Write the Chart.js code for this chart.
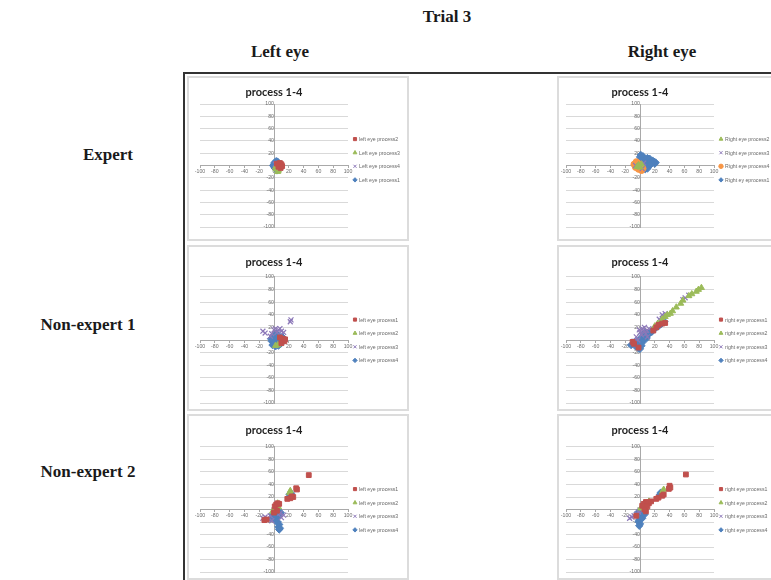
<!DOCTYPE html>
<html>
<head>
<meta charset="utf-8">
<script src="https://cdn.jsdelivr.net/npm/chart.js@4"></script>
<style>
  html, body { margin: 0; padding: 0; background: #fff; width: 771px; height: 580px; overflow: hidden; }
  .lbl { position: absolute; font-family: 'Liberation Serif', 'Times New Roman', serif; font-weight: bold;
         font-size: 17px; color: #1a1a1a; white-space: nowrap; transform: translate(-50%, -50%); }
  #frame { position: absolute; left: 183px; top: 72px; width: 640px; height: 560px;
           border-left: 2px solid #333; border-top: 2px solid #333; }
  .panel { position: absolute; width: 222px; box-sizing: border-box; border: 2px solid #dcdcdc; background: #fff; }
  .panel canvas { position: absolute; left: 0; top: 0; }
</style>
</head>
<body>
<div class="lbl" style="left:447px;top:17px;">Trial 3</div>
<div class="lbl" style="left:280px;top:52px;">Left eye</div>
<div class="lbl" style="left:662px;top:52px;">Right eye</div>
<div class="lbl" style="left:108px;top:155px;">Expert</div>
<div class="lbl" style="left:88px;top:325px;">Non-expert 1</div>
<div class="lbl" style="left:88px;top:472px;">Non-expert 2</div>
<div id="frame"></div>

<script>
// Axis ticks shared by every panel
const axisMin = -100;
const axisMax = 100;
const axisStep = 20;

// ---- Expert, left eye ----
const expertLeftLabels = ['left eye process2', 'Left eye process3', 'Left eye process4', 'Left eye process1'];
const expertLeftP2 = [[8,4],[10,2],[6,-2],[9,-4],[4,3],[11,-1]];
const expertLeftP3 = [[5,-10],[3,-6],[2,-3],[6,-8]];
const expertLeftP4 = [[2,2],[4,-5],[7,1]];
const expertLeftP1 = [[0,2],[1,5],[3,7],[5,6],[6,3],[4,1],[2,-1],[1,-4],[3,-6],[5,-3],[7,-1],[8,2],[2,4],[-1,0],[4,-8],[6,-5],[0,-2]];

// ---- Expert, right eye ----
const expertRightLabels = ['Right eye process2', 'Right eye process3', 'Right eye process4', 'Right ey eprocess1'];
const expertRightP2 = [[-4,-2],[-2,1],[0,-3],[2,2]];
const expertRightP3 = [[-6,0],[3,-5],[5,4]];
const expertRightP4 = [[-8,2],[-6,-3],[-3,4],[-2,-6],[0,-2],[2,-8],[4,-5],[-5,6]];
const expertRightP1 = [[0,14],[1,17],[2,11],[4,15],[3,8],[5,12],[6,6],[7,10],[9,9],[10,12],[12,8],[13,11],[15,7],[17,8],[19,6],[21,5],[20,3],[16,4],[12,3],[8,2],[5,1],[2,3],[1,0],[3,-3],[6,-2],[9,-1],[14,1],[7,-6],[10,-5]];

// ---- Non-expert 1, left eye ----
const ne1LeftLabels = ['left eye process1', 'left eye process2', 'left eye process3', 'left eye process4'];
const ne1LeftP1 = [[12,2],[14,-2],[10,-5],[15,1],[8,4]];
const ne1LeftP2 = [[5,-8],[8,-6],[2,-9],[10,-3]];
const ne1LeftP3 = [[23,32],[22,29],[-15,14],[-12,11],[2,18],[6,16],[10,14],[4,12],[-3,10],[13,12],[0,16],[8,18],[-5,6]];
const ne1LeftP4 = [[-3,-2],[-1,3],[0,8],[2,5],[3,0],[4,-4],[1,-7],[5,2],[6,7],[7,-2],[8,3],[9,-6],[-2,-8],[0,-4],[3,10],[6,-9],[10,0],[11,5],[-4,2],[2,-10]];

// ---- Non-expert 1, right eye ----
const ne1RightLabels = ['right eye process1', 'right eye process2', 'right eye process3', 'right eye process4'];
const ne1RightP1 = [[-10,-3],[-8,-6],[22,20],[25,24],[30,26],[34,27],[18,15],[-2,-12]];
const ne1RightP2 = [[83,83],[79,80],[76,77],[70,73],[66,70],[58,63],[55,58],[49,52],[44,46],[41,42],[37,40],[34,37],[30,33],[24,26],[20,22]];
const ne1RightP3 = [[66,71],[61,67],[58,64],[34,42],[30,40],[26,33],[-8,-2],[-5,5],[0,12],[3,18],[6,20],[9,15],[2,8],[8,10],[-3,0],[12,18],[5,14],[-1,16],[10,5]];
const ne1RightP4 = [[-12,-8],[-8,-4],[-6,-10],[-4,-2],[-2,-6],[0,-3],[2,-9],[1,2],[3,5],[4,-1],[6,2],[8,6],[10,8],[12,10],[14,12],[16,13],[18,16],[20,18],[22,20],[25,22],[28,25],[30,27],[33,29],[5,9],[7,12],[-2,-13],[0,-14],[3,-4],[9,3]];

// ---- Non-expert 2, left eye ----
const ne2LeftLabels = ['left eye process1', 'left eye process2', 'left eye process3', 'left eye process4'];
const ne2LeftP1 = [[47,55],[30,34],[31,32],[26,20],[22,18],[24,21],[18,17],[3,8],[5,10],[1,5],[7,9],[-13,-17],[-10,-16],[4,-2],[0,-5]];
const ne2LeftP2 = [[22,30],[21,27],[5,10],[3,6],[2,2],[6,4],[-2,-3]];
const ne2LeftP3 = [[-15,-14],[-12,-12],[-8,-15],[-5,-10],[10,-13],[13,-9],[8,-6],[-3,-18]];
const ne2LeftP4 = [[23,26],[21,24],[2,-2],[4,-6],[6,-10],[3,-13],[1,-17],[5,-20],[7,-24],[6,-28],[8,-30],[7,-32],[-2,-8],[0,-12],[9,-5],[4,-3],[-4,-14]];

// ---- Non-expert 2, right eye ----
const ne2RightLabels = ['right eye process1', 'right eye process2', 'right eye process3', 'right eye process4'];
const ne2RightP1 = [[62,56],[40,38],[41,35],[39,33],[32,24],[30,22],[25,19],[22,17],[15,13],[12,10],[8,12],[5,9],[3,6],[10,5],[8,-3],[6,0],[-5,-10]];
const ne2RightP2 = [[32,32],[30,28],[12,13],[9,10],[4,6],[1,2],[6,3]];
const ne2RightP3 = [[-14,-14],[-11,-12],[-8,-10],[-4,-7],[-2,-4],[3,-2]];
const ne2RightP4 = [[28,27],[27,24],[2,-3],[4,-6],[1,-9],[-1,-12],[0,-16],[-2,-19],[0,-23],[-1,-26],[3,-14],[6,-8],[-3,-5]];

// Marker looks (Office palette)
const MARK = {
  diamond:  { shape: 'rectRot',  color: '#4F81BD', r: 3.7, bw: 1 },
  square:   { shape: 'rect',     color: '#C0504D', r: 3.4, bw: 1 },
  triangle: { shape: 'triangle', color: '#9BBB59', r: 3.5, bw: 1 },
  cross:    { shape: 'crossRot', color: '#8C78B8', r: 3.5, bw: 1.2 },
  circle:   { shape: 'circle',   color: '#F79646', r: 3.1, bw: 1 }
};

// Right-hand legend drawn next to the plot area
const sideLegend = {
  id: 'sideLegend',
  afterDraw(chart, args, opts) {
    const { ctx, chartArea } = chart;
    const sets = chart.data.datasets;
    const cy = (chartArea.top + chartArea.bottom) / 2 + (opts.offsetY || 0);
    ctx.save();
    sets.forEach((ds, i) => {
      const y = cy + (i - (sets.length - 1) / 2) * opts.gap;
      ctx.fillStyle = ds.backgroundColor;
      ctx.strokeStyle = ds.borderColor;
      ctx.lineWidth = 1;
      Chart.helpers.drawPoint(ctx, { pointStyle: ds.pointStyle, radius: 2.2, borderWidth: 1, rotation: 0 }, opts.x, y);
      ctx.fillStyle = '#6a6a6a';
      ctx.font = '5.2px "Liberation Sans", Arial, sans-serif';
      ctx.textBaseline = 'middle';
      ctx.textAlign = 'left';
      ctx.fillText(ds.label, opts.x + 4, y + 0.5);
    });
    ctx.restore();
  }
};

function series(label, pts, m) {
  return {
    label,
    data: pts.map(p => ({ x: p[0], y: p[1] })),
    pointStyle: m.shape,
    pointRadius: m.r,
    pointHoverRadius: m.r,
    backgroundColor: m.color,
    borderColor: m.color,
    borderWidth: m.bw
  };
}

const tickFont = { size: 5.2, family: '"Liberation Sans", Arial, sans-serif' };

function makePanel(cfg) {
  const panel = document.createElement('div');
  panel.className = 'panel';
  panel.style.left = cfg.left + 'px';
  panel.style.top = cfg.top + 'px';
  panel.style.height = cfg.height + 'px';
  document.body.appendChild(panel);
  const canvas = document.createElement('canvas');
  const w = 218, h = cfg.height - 4;
  canvas.width = w; canvas.height = h;
  canvas.style.width = w + 'px'; canvas.style.height = h + 'px';
  panel.appendChild(canvas);

  new Chart(canvas, {
    type: 'scatter',
    data: { datasets: cfg.datasets },
    plugins: [sideLegend],
    options: {
      responsive: false,
      animation: false,
      events: [],
      layout: { padding: { left: cfg.padL, right: w - cfg.plotR, top: 0, bottom: h - cfg.plotB } },
      plugins: {
        legend: { display: false },
        tooltip: { enabled: false },
        title: {
          display: true,
          text: 'process 1-4',
          color: '#1f1f1f',
          font: { size: 11, weight: 'bold', family: 'Lato, "Liberation Sans", sans-serif', lineHeight: 1.2 },
          padding: { top: cfg.titleCY - 6.6, bottom: cfg.plotT - (cfg.titleCY + 6.6) }
        },
        sideLegend: { x: cfg.legendX, gap: 13.6, offsetY: cfg.legendDY }
      },
      scales: {
        x: {
          type: 'linear', min: axisMin, max: axisMax, position: { y: 0 },
          ticks: { stepSize: axisStep, autoSkip: false, maxRotation: 0, font: tickFont, color: '#6e6e6e', padding: 1 },
          grid: { display: true, drawOnChartArea: false, drawTicks: true, tickLength: 2, color: '#a9a9a9' },
          border: { display: true, color: '#a9a9a9', width: 1 }
        },
        y: {
          type: 'linear', min: axisMin, max: axisMax, position: { x: 0 },
          ticks: { stepSize: axisStep, autoSkip: false, font: tickFont, color: '#6e6e6e', padding: 1 },
          grid: { display: true, drawTicks: true, tickLength: 2, color: '#d9d9d9' },
          border: { display: true, color: '#a9a9a9', width: 1 }
        }
      }
    }
  });
}

const rows = [
  { top: 76,  height: 165, titleCY: 14, plotT: 26, plotB: 149, legendDY: -6 },
  { top: 245, height: 166, titleCY: 15, plotT: 30, plotB: 156, legendDY: 0 },
  { top: 414, height: 166, titleCY: 14, plotT: 31, plotB: 156, legendDY: 0 }
];
const cols = [
  { left: 187, padL: 11, plotR: 159, legendX: 166 },
  { left: 557, padL: 7,  plotR: 155, legendX: 162 }
];

const panels = [
  [ // Expert
    [series(expertLeftLabels[0], expertLeftP2, MARK.square), series(expertLeftLabels[1], expertLeftP3, MARK.triangle),
     series(expertLeftLabels[2], expertLeftP4, MARK.cross), series(expertLeftLabels[3], expertLeftP1, MARK.diamond)],
    [series(expertRightLabels[0], expertRightP2, MARK.triangle), series(expertRightLabels[1], expertRightP3, MARK.cross),
     series(expertRightLabels[2], expertRightP4, MARK.circle), series(expertRightLabels[3], expertRightP1, MARK.diamond)]
  ],
  [ // Non-expert 1
    [series(ne1LeftLabels[0], ne1LeftP1, MARK.square), series(ne1LeftLabels[1], ne1LeftP2, MARK.triangle),
     series(ne1LeftLabels[2], ne1LeftP3, MARK.cross), series(ne1LeftLabels[3], ne1LeftP4, MARK.diamond)],
    [series(ne1RightLabels[0], ne1RightP1, MARK.square), series(ne1RightLabels[1], ne1RightP2, MARK.triangle),
     series(ne1RightLabels[2], ne1RightP3, MARK.cross), series(ne1RightLabels[3], ne1RightP4, MARK.diamond)]
  ],
  [ // Non-expert 2
    [series(ne2LeftLabels[0], ne2LeftP1, MARK.square), series(ne2LeftLabels[1], ne2LeftP2, MARK.triangle),
     series(ne2LeftLabels[2], ne2LeftP3, MARK.cross), series(ne2LeftLabels[3], ne2LeftP4, MARK.diamond)],
    [series(ne2RightLabels[0], ne2RightP1, MARK.square), series(ne2RightLabels[1], ne2RightP2, MARK.triangle),
     series(ne2RightLabels[2], ne2RightP3, MARK.cross), series(ne2RightLabels[3], ne2RightP4, MARK.diamond)]
  ]
];

rows.forEach((r, ri) => {
  cols.forEach((c, ci) => {
    makePanel(Object.assign({}, r, c, { datasets: panels[ri][ci] }));
  });
});
</script>
</body>
</html>
